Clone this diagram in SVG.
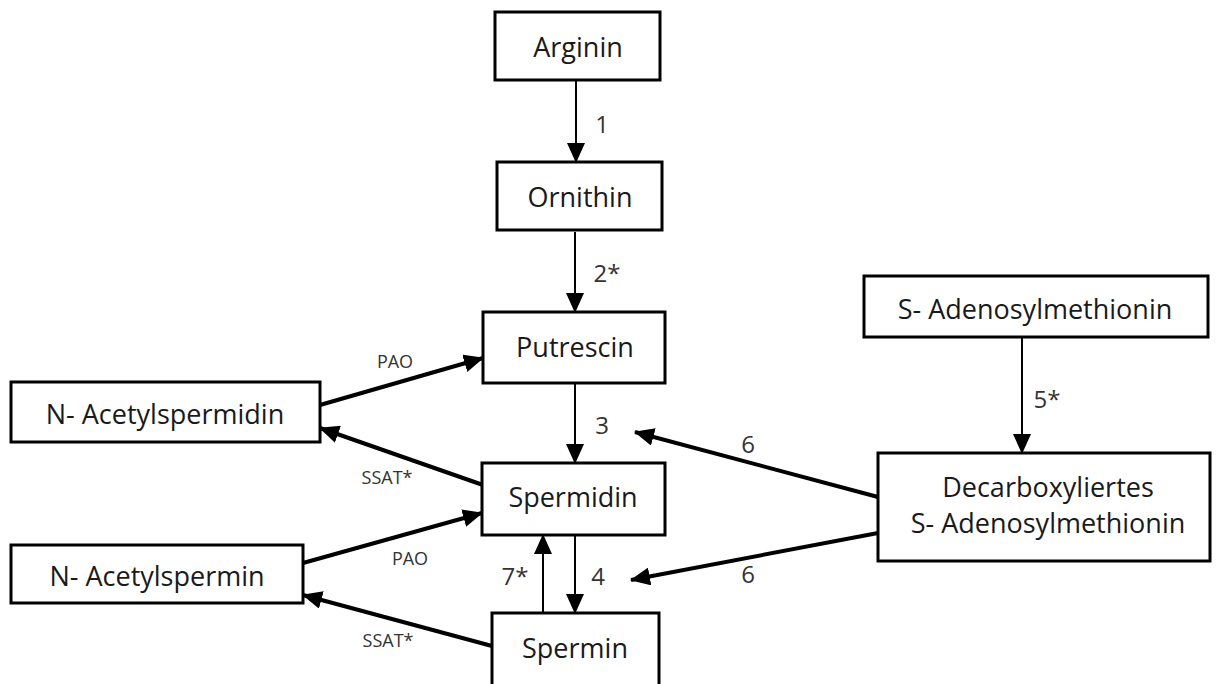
<svg xmlns="http://www.w3.org/2000/svg" width="1218" height="684" viewBox="0 0 1218 684">
<style>
.box{fill:#fff;stroke:#000;stroke-width:3}
.t{font-family:"Open Sans","Noto Sans",sans-serif;font-size:27px;fill:#1a1a1a;text-anchor:middle;dominant-baseline:central}
.n{font-family:"Open Sans","Noto Sans",sans-serif;font-size:24px;fill:#333;text-anchor:middle;dominant-baseline:central}
.s{font-family:"Open Sans","Noto Sans",sans-serif;font-size:18px;fill:#333;text-anchor:middle;dominant-baseline:central}
.thin{stroke:#000;stroke-width:2;fill:none;marker-end:url(#ah)}
.thick{stroke:#000;stroke-width:4;fill:none;marker-end:url(#ah)}
</style>
<defs>
<marker id="ah" markerUnits="userSpaceOnUse" markerWidth="20" markerHeight="18" viewBox="0 0 20 18" refX="19" refY="9" orient="auto">
<path d="M0,0 L20,9 L0,18 Z" fill="#000"/>
</marker>
</defs>
<g id="connectors">
<line class="thin" x1="576" y1="80" x2="576" y2="162"/>
<line class="thin" x1="575" y1="232" x2="575" y2="312"/>
<line class="thin" x1="575" y1="384" x2="575" y2="463"/>
<line class="thin" x1="575" y1="535" x2="575" y2="613"/>
<line class="thin" x1="543" y1="613" x2="543" y2="535"/>
<line class="thin" x1="1022" y1="338" x2="1022" y2="453"/>
<line class="thick" x1="320" y1="405" x2="483" y2="358"/>
<line class="thick" x1="483" y1="485" x2="320" y2="428"/>
<line class="thick" x1="303" y1="563" x2="482" y2="513"/>
<line class="thick" x1="492" y1="646" x2="303" y2="595"/>
<line class="thick" x1="878" y1="497" x2="635" y2="432"/>
<line class="thick" x1="878" y1="533" x2="631" y2="580"/>
<text class="n" x="602" y="123">1</text>
<text class="n" x="607" y="272">2*</text>
<text class="n" x="602" y="424">3</text>
<text class="n" x="598" y="575">4</text>
<text class="n" x="515" y="575">7*</text>
<text class="n" x="1047" y="398">5*</text>
<text class="n" x="748" y="443">6</text>
<text class="n" x="748" y="573">6</text>
<text class="s" x="395" y="361">PAO</text>
<text class="s" x="387" y="477">SSAT*</text>
<text class="s" x="410" y="558">PAO</text>
<text class="s" x="388" y="640">SSAT*</text>
</g>
<g id="arginin"><rect class="box" x="495" y="12" width="165" height="68"/><text class="t" x="578" y="46">Arginin</text></g>
<g id="ornithin"><rect class="box" x="497" y="162" width="165" height="68"/><text class="t" x="580" y="196">Ornithin</text></g>
<g id="putrescin"><rect class="box" x="483" y="312" width="182" height="71"/><text class="t" x="575" y="346">Putrescin</text></g>
<g id="spermidin"><rect class="box" x="482" y="463" width="183" height="72"/><text class="t" x="573" y="496">Spermidin</text></g>
<g id="spermin"><rect class="box" x="492" y="613" width="167" height="80"/><text class="t" x="575" y="647">Spermin</text></g>
<g id="n-acetylspermidin"><rect class="box" x="11" y="382" width="309" height="60"/><text class="t" x="165" y="413">N- Acetylspermidin</text></g>
<g id="n-acetylspermin"><rect class="box" x="11" y="545" width="292" height="58"/><text class="t" x="157" y="575">N- Acetylspermin</text></g>
<g id="s-adenosylmethionin"><rect class="box" x="864" y="276" width="344" height="61"/><text class="t" x="1035" y="308">S- Adenosylmethionin</text></g>
<g id="dcsam"><rect class="box" x="878" y="453" width="332" height="108"/><text class="t" x="1048" y="486">Decarboxyliertes</text><text class="t" x="1048" y="522">S- Adenosylmethionin</text></g>
</svg>
